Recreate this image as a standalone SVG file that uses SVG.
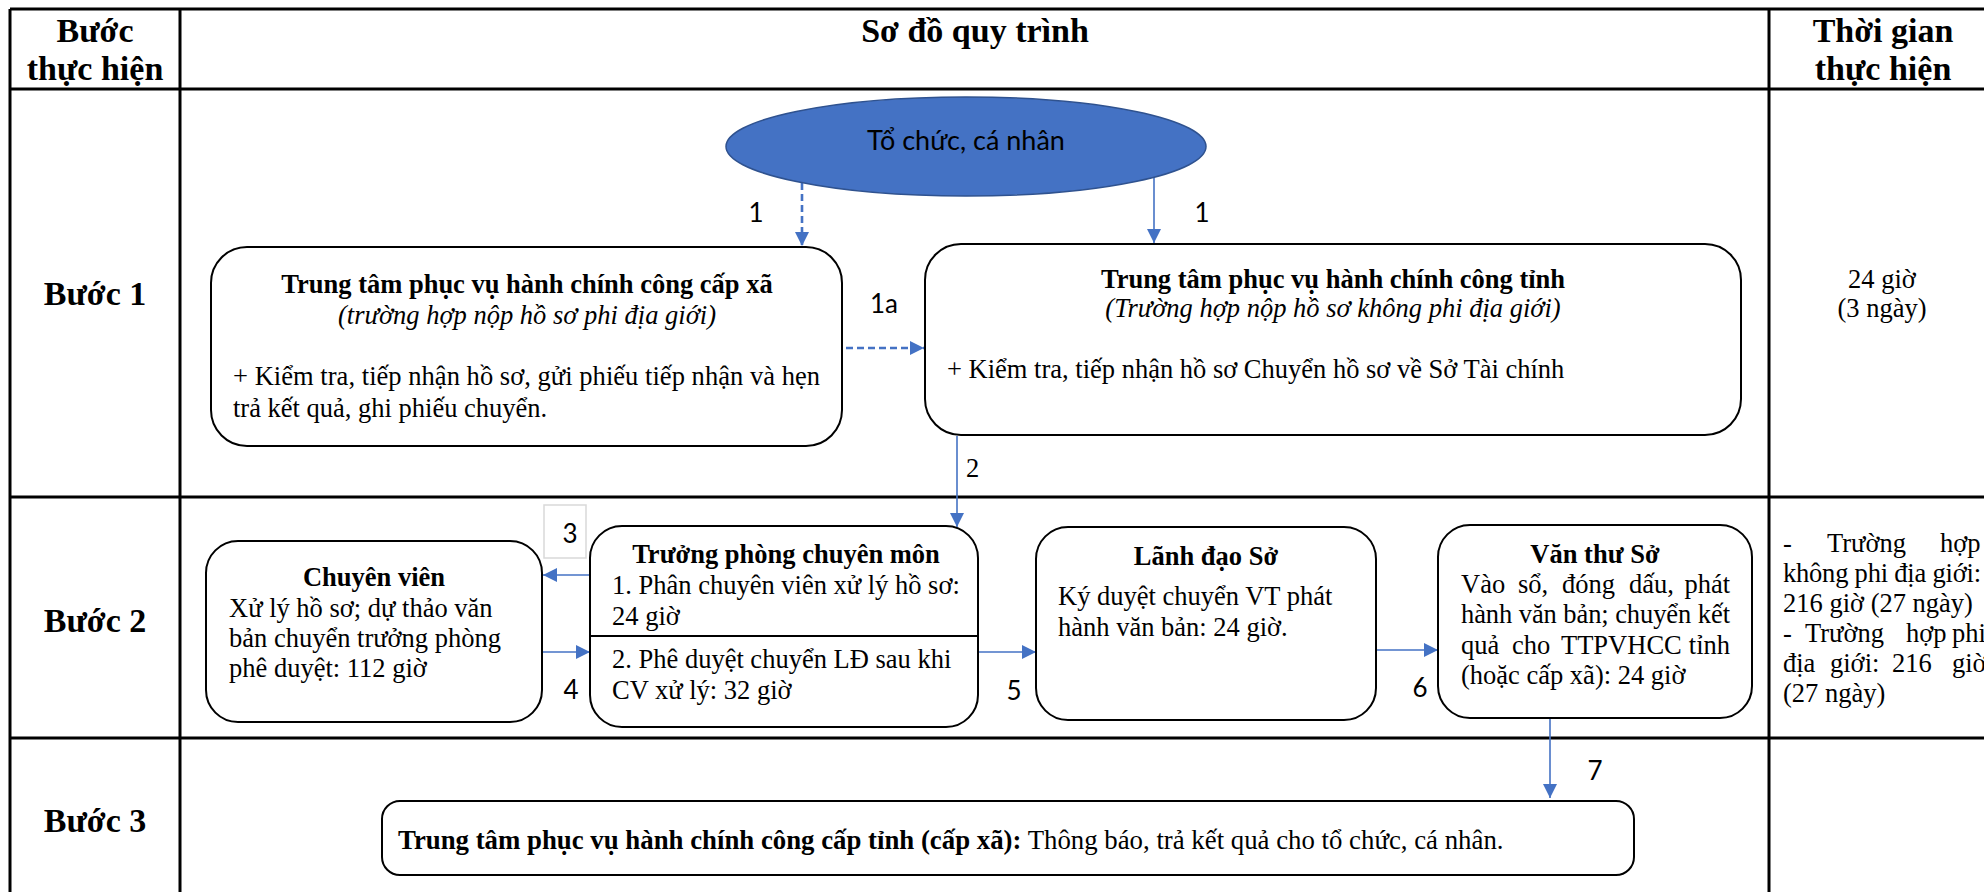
<svg xmlns="http://www.w3.org/2000/svg" width="1984" height="892" viewBox="0 0 1984 892">
<defs>
<style>
.grid{stroke:#000;stroke-width:3;fill:none}
.box{fill:#fff;stroke:#000;stroke-width:2}
.s{font-family:"Liberation Serif","Times New Roman",serif;font-size:26.5px;fill:#000}
.b{font-weight:bold}
.i{font-style:italic}
.h{font-family:"Liberation Serif","Times New Roman",serif;font-size:34px;font-weight:bold;fill:#000;text-anchor:middle}
.m{text-anchor:middle}
.e{text-anchor:end}
.n{font-family:Lato,"Liberation Sans",sans-serif;font-size:26px;fill:#000;text-anchor:middle}
.c{stroke:#4472C4;stroke-width:1.6;fill:none}
.d{stroke:#4472C4;stroke-width:2.6;fill:none;stroke-dasharray:7 4}
</style>
<marker id="ah" viewBox="0 0 14 14" markerWidth="14" markerHeight="14" refX="14" refY="7" orient="auto" markerUnits="userSpaceOnUse">
<path d="M0,0 L14,7 L0,14 z" fill="#4472C4"/>
</marker>
</defs>
<rect width="1984" height="892" fill="#fff"/>

<g id="table">
<line class="grid" x1="10" y1="9" x2="1984" y2="9"/>
<line class="grid" x1="10" y1="89" x2="1984" y2="89"/>
<line class="grid" x1="10" y1="497" x2="1984" y2="497"/>
<line class="grid" x1="10" y1="738" x2="1984" y2="738"/>
<line class="grid" x1="10" y1="9" x2="10" y2="892"/>
<line class="grid" x1="180" y1="9" x2="180" y2="892"/>
<line class="grid" x1="1769" y1="9" x2="1769" y2="892"/>
<text class="h" x="95" y="42">Bước</text>
<text class="h" x="95" y="80">thực hiện</text>
<text class="h" x="975" y="42">Sơ đồ quy trình</text>
<text class="h" x="1883" y="42">Thời gian</text>
<text class="h" x="1883" y="80">thực hiện</text>
<text class="h" x="95" y="305">Bước 1</text>
<text class="h" x="95" y="632">Bước 2</text>
<text class="h" x="95" y="832">Bước 3</text>
<text class="s m" x="1882" y="288">24 giờ</text>
<text class="s m" x="1882" y="317">(3 ngày)</text>
<text class="s" y="552"><tspan x="1783">-</tspan><tspan x="1827">Trường</tspan><tspan x="1940">hợp</tspan></text>
<text class="s" x="1783" y="582" textLength="198" lengthAdjust="spacing">không phi địa giới:</text>
<text class="s" x="1783" y="612">216 giờ (27 ngày)</text>
<text class="s" y="642"><tspan x="1783">-</tspan><tspan x="1805">Trường</tspan><tspan x="1906">hợp</tspan><tspan x="1952">phi</tspan></text>
<text class="s" y="672"><tspan x="1783">địa</tspan><tspan x="1830">giới:</tspan><tspan x="1892">216</tspan><tspan x="1952">giờ</tspan></text>
<text class="s" x="1783" y="702">(27 ngày)</text>
</g>

<g id="connectors">
<line class="d" x1="802" y1="183" x2="802" y2="246" marker-end="url(#ah)"/>
<line class="c" x1="1154" y1="175" x2="1154" y2="243" marker-end="url(#ah)"/>
<line class="d" x1="846" y1="348" x2="924" y2="348" marker-end="url(#ah)"/>
<line class="c" x1="957" y1="436" x2="957" y2="527" marker-end="url(#ah)"/>
<line class="c" x1="589" y1="575" x2="543" y2="575" marker-end="url(#ah)"/>
<line class="c" x1="542" y1="652" x2="590" y2="652" marker-end="url(#ah)"/>
<line class="c" x1="979" y1="652" x2="1036" y2="652" marker-end="url(#ah)"/>
<line class="c" x1="1377" y1="650" x2="1438" y2="650" marker-end="url(#ah)"/>
<line class="c" x1="1550" y1="719" x2="1550" y2="798" marker-end="url(#ah)"/>
<text class="n" x="756" y="222">1</text>
<text class="n" x="1202" y="222">1</text>
<text class="n" x="884" y="313">1a</text>
<text class="s" x="966" y="477">2</text>
<rect x="544" y="505" width="42" height="53" fill="#fff" stroke="#D9D9D9" stroke-width="1.5"/>
<text class="n" x="570" y="543">3</text>
<text class="n" x="571" y="699">4</text>
<text class="n" x="1014" y="700">5</text>
<text class="n" x="1420" y="697">6</text>
<text class="n" x="1595" y="780">7</text>
</g>

<g id="n-to-chuc">
<ellipse cx="966" cy="146.5" rx="240" ry="49.5" fill="#4472C4" stroke="#2F528F" stroke-width="1.5"/>
<text class="n" x="966" y="150" style="font-size:27px">Tổ chức, cá nhân</text>
</g>

<g id="n-xa">
<rect class="box" x="211" y="247" width="631" height="199" rx="36"/>
<text class="s b m" x="527" y="293">Trung tâm phục vụ hành chính công cấp xã</text>
<text class="s i m" x="527" y="324">(trường hợp nộp hồ sơ phi địa giới)</text>
<text class="s" x="233" y="385" textLength="587" lengthAdjust="spacing">+ Kiểm tra, tiếp nhận hồ sơ, gửi phiếu tiếp nhận và hẹn</text>
<text class="s" x="233" y="417">trả kết quả, ghi phiếu chuyển.</text>
</g>

<g id="n-tinh">
<rect class="box" x="925" y="244" width="816" height="191" rx="36"/>
<text class="s b m" x="1333" y="288">Trung tâm phục vụ hành chính công tỉnh</text>
<text class="s i m" x="1333" y="317">(Trường hợp nộp hồ sơ không phi địa giới)</text>
<text class="s" x="947" y="378">+ Kiểm tra, tiếp nhận hồ sơ Chuyển hồ sơ về Sở Tài chính</text>
</g>

<g id="n-chuyen-vien">
<rect class="box" x="206" y="541" width="336" height="181" rx="32"/>
<text class="s b m" x="374" y="586">Chuyên viên</text>
<text class="s" x="229" y="617">Xử lý hồ sơ; dự thảo văn</text>
<text class="s" x="229" y="647">bản chuyển trưởng phòng</text>
<text class="s" x="229" y="677">phê duyệt: 112 giờ</text>
</g>

<g id="n-truong-phong">
<rect class="box" x="590" y="526" width="388" height="201" rx="32"/>
<line x1="590" y1="636" x2="978" y2="636" stroke="#000" stroke-width="2"/>
<text class="s b m" x="786" y="563">Trưởng phòng chuyên môn</text>
<text class="s" x="612" y="594">1. Phân chuyên viên xử lý hồ sơ:</text>
<text class="s" x="612" y="625">24 giờ</text>
<text class="s" x="612" y="668">2. Phê duyệt chuyển LĐ sau khi</text>
<text class="s" x="612" y="699">CV xử lý: 32 giờ</text>
</g>

<g id="n-lanh-dao">
<rect class="box" x="1036" y="527" width="340" height="193" rx="32"/>
<text class="s b m" x="1206" y="565">Lãnh đạo Sở</text>
<text class="s" x="1058" y="605">Ký duyệt chuyển VT phát</text>
<text class="s" x="1058" y="636">hành văn bản: 24 giờ.</text>
</g>

<g id="n-van-thu">
<rect class="box" x="1438" y="525" width="314" height="193" rx="32"/>
<text class="s b m" x="1595" y="563">Văn thư Sở</text>
<text class="s" y="593"><tspan x="1461">Vào</tspan><tspan x="1518">sổ,</tspan><tspan x="1562">đóng</tspan><tspan x="1629">dấu,</tspan><tspan x="1730" text-anchor="end">phát</tspan></text>
<text class="s" x="1461" y="623" textLength="269" lengthAdjust="spacing">hành văn bản; chuyển kết</text>
<text class="s" y="654"><tspan x="1461">quả</tspan><tspan x="1512">cho</tspan><tspan x="1561">TTPVHCC</tspan><tspan x="1730" text-anchor="end">tỉnh</tspan></text>
<text class="s" x="1461" y="684">(hoặc cấp xã): 24 giờ</text>
</g>

<g id="n-tra-ket-qua">
<rect class="box" x="382" y="801" width="1252" height="74" rx="18"/>
<text class="s" x="398" y="849" style="font-size:26.8px"><tspan class="b">Trung tâm phục vụ hành chính công cấp tỉnh (cấp xã):</tspan> Thông báo, trả kết quả cho tổ chức, cá nhân.</text>
</g>
</svg>
